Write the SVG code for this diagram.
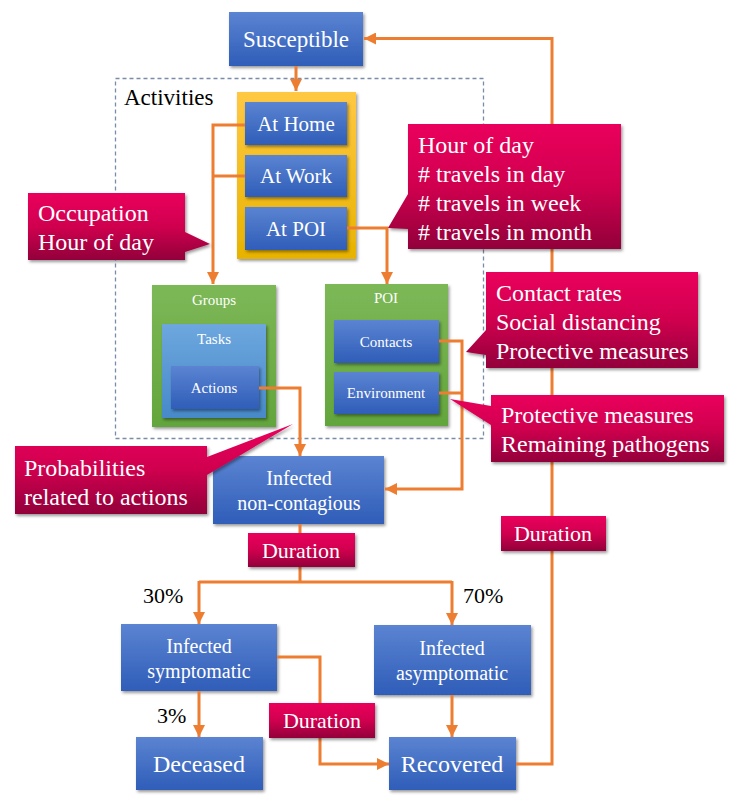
<svg xmlns="http://www.w3.org/2000/svg" width="741" height="807" viewBox="0 0 741 807">
<defs>
<linearGradient id="gBlue" x1="0" y1="0" x2="0" y2="1"><stop offset="0" stop-color="#5B84D2"/><stop offset="1" stop-color="#2F5DB8"/></linearGradient>
<linearGradient id="gPink" x1="0" y1="0" x2="0" y2="1"><stop offset="0" stop-color="#EA065C"/><stop offset="0.5" stop-color="#D0024F"/><stop offset="1" stop-color="#92003A"/></linearGradient>
<linearGradient id="gYellow" x1="0" y1="0" x2="0" y2="1"><stop offset="0" stop-color="#FFC843"/><stop offset="1" stop-color="#E8B300"/></linearGradient>
<linearGradient id="gGreen" x1="0" y1="0" x2="0" y2="1"><stop offset="0" stop-color="#7DB857"/><stop offset="1" stop-color="#63A53C"/></linearGradient>
<linearGradient id="gLight" x1="0" y1="0" x2="0" y2="1"><stop offset="0" stop-color="#6DA7DE"/><stop offset="1" stop-color="#4789C9"/></linearGradient>
<filter id="sh" x="-10%" y="-10%" width="130%" height="130%"><feDropShadow dx="1.5" dy="2" stdDeviation="1.5" flood-color="#000" flood-opacity="0.4"/></filter>
<marker id="ah" markerUnits="userSpaceOnUse" markerWidth="14" markerHeight="12" refX="12" refY="6" orient="auto"><path d="M0,0 L12,6 L0,12 Z" fill="#ED7D31"/></marker>
<style>
.blue{fill:url(#gBlue);filter:url(#sh)}
.pink{fill:url(#gPink);filter:url(#sh)}
.wt{fill:#fff;text-anchor:middle}
.ct{fill:#fff;font-size:24px}
.bt{fill:#000}
.con{fill:none;stroke:#ED7D31;stroke-width:3}
</style>
</defs>
<rect width="741" height="807" fill="#fff"/>
<g font-family="Liberation Serif, Times New Roman, DejaVu Serif, Noto Serif, serif">

<g id="activities">
<rect x="115.5" y="78.5" width="368" height="360" fill="none" stroke="#7A8CA8" stroke-width="1.3" stroke-dasharray="4,3"/>
<text class="bt" x="124" y="105" font-size="23">Activities</text>
</g>

<g id="activity-stack"><rect x="237" y="92" width="119" height="167" fill="url(#gYellow)" filter="url(#sh)"/></g>
<g id="at-home"><rect class="blue" x="245" y="102" width="102" height="43"/><text class="wt" x="296" y="131" font-size="21">At Home</text></g>
<g id="at-work"><rect class="blue" x="245" y="155" width="102" height="42"/><text class="wt" x="296" y="183" font-size="21">At Work</text></g>
<g id="at-poi"><rect class="blue" x="245" y="207" width="102" height="43"/><text class="wt" x="296" y="236" font-size="21">At POI</text></g>

<g id="susceptible"><rect class="blue" x="229" y="12" width="134" height="54"/><text class="wt" x="296" y="47" font-size="23">Susceptible</text></g>

<g id="groups"><rect x="152" y="285" width="124" height="142" fill="url(#gGreen)" filter="url(#sh)"/><text class="wt" x="214" y="305" font-size="15">Groups</text></g>
<g id="tasks"><rect x="162" y="324" width="104" height="94" fill="url(#gLight)" filter="url(#sh)"/><text class="wt" x="214" y="344" font-size="15">Tasks</text></g>
<g id="actions"><rect class="blue" x="171" y="366" width="88" height="43"/><text class="wt" x="214" y="393" font-size="15">Actions</text></g>

<g id="poi"><rect x="325" y="284" width="123" height="142" fill="url(#gGreen)" filter="url(#sh)"/><text class="wt" x="386" y="303" font-size="15">POI</text></g>
<g id="contacts"><rect class="blue" x="334" y="320" width="105" height="43"/><text class="wt" x="386" y="347" font-size="15">Contacts</text></g>
<g id="environment"><rect class="blue" x="334" y="372" width="105" height="42"/><text class="wt" x="386" y="398" font-size="15">Environment</text></g>

<g id="infected-noncontagious"><rect class="blue" x="213" y="456" width="171" height="68"/><text class="wt" x="299" y="485" font-size="20">Infected</text><text class="wt" x="299" y="510" font-size="20">non-contagious</text></g>
<g id="infected-symptomatic"><rect class="blue" x="121" y="624" width="156" height="67"/><text class="wt" x="199" y="653" font-size="20">Infected</text><text class="wt" x="199" y="678" font-size="20">symptomatic</text></g>
<g id="infected-asymptomatic"><rect class="blue" x="374" y="625" width="157" height="70"/><text class="wt" x="452" y="655" font-size="20">Infected</text><text class="wt" x="452" y="680" font-size="20">asymptomatic</text></g>
<g id="deceased"><rect class="blue" x="136" y="737" width="127" height="53"/><text class="wt" x="199" y="772" font-size="24">Deceased</text></g>
<g id="recovered"><rect class="blue" x="389" y="737" width="127" height="53"/><text class="wt" x="452" y="772" font-size="24">Recovered</text></g>

<g id="connectors">
<path class="con" d="M296,66 V91" marker-end="url(#ah)"/>
<path class="con" d="M516,764 H552 V38.5 H364" marker-end="url(#ah)"/>
<path class="con" d="M245,125 H213 V284" marker-end="url(#ah)"/>
<path class="con" d="M245,176 H213"/>
<path class="con" d="M347,228 H387 V284" marker-end="url(#ah)"/>
<path class="con" d="M259,388 H300 V456" marker-end="url(#ah)"/>
<path class="con" d="M439,341 H462 V489 H385" marker-end="url(#ah)"/>
<path class="con" d="M439,393 H462"/>
<path class="con" d="M300,524 V582"/>
<path class="con" d="M199,582 H452"/>
<path class="con" d="M199,581 V624" marker-end="url(#ah)"/>
<path class="con" d="M452,581 V625" marker-end="url(#ah)"/>
<path class="con" d="M199,691 V737" marker-end="url(#ah)"/>
<path class="con" d="M277,657 H320 V764 H389" marker-end="url(#ah)"/>
<path class="con" d="M452,695 V737" marker-end="url(#ah)"/>
</g>

<g id="labels">
<text class="bt" x="143" y="603" font-size="22">30%</text>
<text class="bt" x="463" y="603" font-size="22">70%</text>
<text class="bt" x="157" y="723" font-size="22">3%</text>
</g>

<g id="duration-1"><rect class="pink" x="248" y="533" width="107" height="34"/><text class="wt" x="301" y="558" font-size="22">Duration</text></g>
<g id="duration-2"><rect class="pink" x="501" y="516" width="105" height="35"/><text class="wt" x="553" y="541" font-size="22">Duration</text></g>
<g id="duration-3"><rect class="pink" x="269" y="703" width="106" height="35"/><text class="wt" x="322" y="728" font-size="22">Duration</text></g>

<g id="callout-occupation"><path class="pink" d="M28,193 H185 V232 L210,244 L185,252 V260 H28 Z"/><text class="ct" x="38" y="221">Occupation</text><text class="ct" x="38" y="250">Hour of day</text></g>
<g id="callout-travel"><path class="pink" d="M408,124 H621 V249 H408 V229 L388,228 L408,194 Z"/><text class="ct" x="418" y="153">Hour of day</text><text class="ct" x="418" y="182"># travels in day</text><text class="ct" x="418" y="211"># travels in week</text><text class="ct" x="418" y="240"># travels in month</text></g>
<g id="callout-contact"><path class="pink" d="M486,272 H698 V368 H486 V355 L466,352 L486,330 Z"/><text class="ct" x="496" y="301">Contact rates</text><text class="ct" x="496" y="330">Social distancing</text><text class="ct" x="496" y="359">Protective measures</text></g>
<g id="callout-environment"><path class="pink" d="M491,395 H724 V462 H491 V425 L450,399 L491,406 Z"/><text class="ct" x="501" y="423">Protective measures</text><text class="ct" x="501" y="452">Remaining pathogens</text></g>
<g id="callout-probabilities"><path class="pink" d="M15,446 H207 V457 L293,424 L207,475 V514 H15 Z"/><text class="ct" x="24" y="476">Probabilities</text><text class="ct" x="24" y="505">related to actions</text></g>
</g>
</svg>
